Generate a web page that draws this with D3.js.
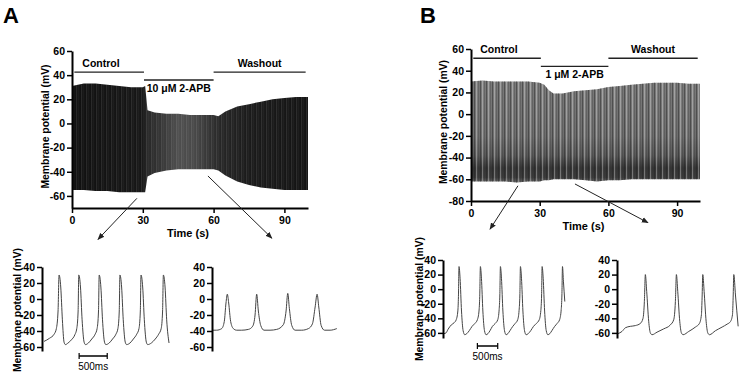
<!DOCTYPE html>
<html>
<head>
<meta charset="utf-8">
<script src="https://cdn.jsdelivr.net/npm/d3@7"></script>
<style>
  body { margin: 0; background: #fff; }
  svg text { font-family: Arial, "Liberation Sans", sans-serif; }
</style>
</head>
<body>
<script>
// ---- data ----
// envelopes of the spike trains (time s, peak mV, trough mV)
var timeA   = [0, 5, 10, 15, 20, 25, 30, 31, 32, 35, 40, 45, 50, 55, 60, 62, 65, 70, 75, 80, 85, 90, 95, 100];
var peakA   = [31, 33, 33, 32, 31, 30, 30, 31, 11, 9, 8, 8, 7, 7, 7, 6, 10, 14, 16, 18, 20, 21, 22, 22];
var troughA = [-55, -55, -56, -56, -57, -57, -57, -57, -44, -41, -39, -38, -38, -38, -38, -39, -43, -48, -51, -53, -54, -55, -55, -55];

var timeB   = [0, 5, 10, 15, 20, 25, 30, 32, 34, 36, 40, 45, 50, 55, 60, 65, 70, 75, 80, 85, 90, 95, 100];
var peakB   = [30, 31, 30, 30, 30, 30, 29, 27, 22, 19, 19, 21, 22, 23, 25, 26, 27, 28, 29, 29, 29, 28, 28];
var troughB = [-62, -62, -62, -62, -63, -62, -62, -61, -61, -60, -60, -60, -61, -62, -61, -61, -60, -60, -60, -60, -60, -60, -60];

// treatment periods
var periodNamesA = ["Control", "10 \u03bcM 2-APB", "Washout"];
var periodNamesB = ["Control", "1 \u03bcM 2-APB", "Washout"];
var periodStart  = [1, 30.5, 60];
var periodEnd    = [30.5, 60, 99];

// tick values
var mainXTicks  = [0, 30, 60, 90];
var mainYTicksA = [-60, -40, -20, 0, 20, 40, 60];
var mainYTicksB = [-80, -60, -40, -20, 0, 20, 40, 60];
var insetYTicks = [-60, -40, -20, 0, 20, 40];

// inset traces [ms, mV]
var traceA1 = [[0,-53],[100,-49],[180,-44],[220,-37],[250,-15],[268,30],[298,15],[327,-26],[357,-54],[381,-57],
  [428,-55],[488,-51],[547,-45],[583,-37],[607,-15],[619,30],[649,15],[678,-26],[714,-54],[738,-57],
  [790,-55],[850,-50],[910,-44],[945,-37],[970,-15],[982,30],[1012,15],[1041,-26],[1077,-54],[1101,-57],
  [1160,-55],[1220,-50],[1280,-44],[1315,-37],[1339,-15],[1351,30],[1381,15],[1410,-26],[1446,-54],[1470,-57],
  [1530,-55],[1590,-50],[1650,-44],[1690,-37],[1714,-15],[1726,30],[1756,15],[1785,-26],[1821,-54],[1845,-57],
  [1910,-55],[1980,-50],[2040,-44],[2085,-37],[2110,-15],[2124,30],[2154,15],[2183,-26],[2225,-55]];
var traceA2 = [[0,-39],[77,-39],[167,-37],[214,-28],[244,-5],[268,6],[292,-5],[327,-28],[375,-37],[434,-39],
  [524,-39],[643,-38],[720,-34],[762,-20],[791,6],[821,-15],[863,-33],[922,-39],
  [1029,-39],[1148,-38],[1267,-32],[1315,-15],[1345,7],[1374,-12],[1416,-33],[1476,-39],
  [1595,-39],[1713,-37],[1785,-31],[1833,-10],[1868,6],[1898,-10],[1940,-33],[2000,-39],
  [2100,-39],[2219,-37]];
var traceB1 = [[0,-61],[50,-60],[100,-55],[180,-49],[250,-46],[300,-42],[340,-30],[355,-10],[369,31],[395,15],[430,-30],[470,-57],[510,-62.5],
  [560,-61],[620,-57],[690,-51],[760,-47],[820,-42],[860,-30],[878,-10],[894,31],[920,15],[955,-30],[995,-57],[1035,-62.5],
  [1080,-61],[1130,-57],[1190,-51],[1260,-47],[1320,-42],[1355,-28],[1372,-8],[1386,31],[1412,15],[1447,-30],[1487,-57],[1527,-62.5],
  [1570,-61],[1620,-57],[1690,-51],[1750,-47],[1810,-42],[1845,-29],[1864,-8],[1878,31],[1904,15],[1939,-30],[1979,-57],[2019,-62.5],
  [2070,-61],[2130,-57],[2200,-51],[2270,-47],[2340,-42],[2380,-29],[2398,-8],[2411,31],[2437,15],[2472,-30],[2512,-57],[2552,-62.5],
  [2600,-61],[2650,-57],[2720,-51],[2780,-47],[2840,-42],[2880,-28],[2897,-8],[2911,31],[2935,10],[2968,-17]];
var traceB2 = [[0,-61],[98,-58],[180,-53],[303,-51],[426,-50],[549,-47],[615,-40],[648,-17],[672,20],[705,-3],[754,-44],[795,-60],[836,-62.5],
  [959,-59],[1123,-54.5],[1287,-49],[1369,-42],[1410,-17],[1435,20],[1468,-3],[1517,-44],[1558,-60],[1599,-62.5],
  [1738,-58],[1902,-52],[2001,-47],[2050,-35],[2066,-12],[2083,20],[2116,-3],[2165,-44],[2206,-60],[2247,-62.5],
  [2394,-57],[2558,-52],[2681,-48],[2763,-44.5],[2813,-35],[2829,-12],[2845,20],[2886,-8],[2952,-51]];

var scaleBarMs = 500;

// ---- drawing ----
var svg = d3.select("body").append("svg")
  .attr("width", 742)
  .attr("height", 374);

var defs = svg.append("defs");

defs.append("marker")
  .attr("id", "arrow")
  .attr("viewBox", "0 0 10 10")
  .attr("refX", 9).attr("refY", 5)
  .attr("markerWidth", 7).attr("markerHeight", 7)
  .attr("orient", "auto")
  .append("path")
  .attr("d", "M0,1 L10,5 L0,9 z")
  .attr("fill", "#222");

// stripes imitating the individual spikes
var patA = defs.append("pattern").attr("id", "stripesA")
  .attr("patternUnits", "userSpaceOnUse").attr("width", 5).attr("height", 10);
patA.append("rect").attr("x", 1.5).attr("width", 0.6).attr("height", 10).attr("fill", "#fff").attr("opacity", 0.2);
patA.append("rect").attr("x", 3.6).attr("width", 0.5).attr("height", 10).attr("fill", "#fff").attr("opacity", 0.1);

var patB = defs.append("pattern").attr("id", "stripesB")
  .attr("patternUnits", "userSpaceOnUse").attr("width", 6).attr("height", 10);
patB.append("rect").attr("x", 0).attr("width", 1).attr("height", 10).attr("fill", "#222").attr("opacity", 0.45);
patB.append("rect").attr("x", 2.3).attr("width", 0.8).attr("height", 10).attr("fill", "#fff").attr("opacity", 0.45);
patB.append("rect").attr("x", 4).attr("width", 0.8).attr("height", 10).attr("fill", "#333").attr("opacity", 0.35);

var font = "Arial, 'Liberation Sans', sans-serif";
var plain = function(d) { return String(d); };

function styleAxis(g) {
  g.select(".domain").attr("stroke", "#000").attr("stroke-width", 2);
  g.selectAll(".tick line").attr("stroke", "#000").attr("stroke-width", 1.5);
  g.selectAll(".tick text").attr("font-size", 10.5).attr("font-weight", "bold").attr("font-family", font).attr("fill", "#000");
}

function yTitle(x, y, size) {
  svg.append("text")
    .attr("transform", "translate(" + x + "," + y + ") rotate(-90)")
    .attr("text-anchor", "middle")
    .attr("font-size", size)
    .attr("font-weight", "bold")
    .text("Membrane potential (mV)");
}

function drawMain(o) {
  var x = o.x, y = o.y;
  var rows = o.time.map(function(t, i) { return {t: t, hi: o.peak[i], lo: o.trough[i]}; });

  var grad = defs.append("linearGradient").attr("id", o.id + "grad")
    .attr("gradientUnits", "userSpaceOnUse");
  if (o.vertical) {
    grad.attr("x1", 0).attr("x2", 0).attr("y1", y(32)).attr("y2", y(-63));
  } else {
    grad.attr("x1", x(0)).attr("x2", x(100)).attr("y1", 0).attr("y2", 0);
  }
  grad.selectAll("stop").data(o.stops).enter().append("stop")
    .attr("offset", function(d) { return d[0]; })
    .attr("stop-color", function(d) { return d[1]; });

  var area = d3.area()
    .x(function(d) { return x(d.t); })
    .y0(function(d) { return y(d.lo); })
    .y1(function(d) { return y(d.hi); });

  svg.append("path").datum(rows).attr("d", area).attr("fill", "url(#" + o.id + "grad)");
  svg.append("path").datum(rows).attr("d", area).attr("fill", "url(#" + o.stripes + ")");

  // axes
  var gx = svg.append("g").attr("transform", "translate(0," + y.range()[0] + ")");
  gx.call(d3.axisBottom(x).tickValues(d3.range(0, 101, 10)).tickSize(3).tickFormat("").tickSizeOuter(0));
  gx.call(d3.axisBottom(x).tickValues(mainXTicks).tickSize(5).tickSizeOuter(0).tickPadding(4).tickFormat(plain));
  styleAxis(gx);

  var gy = svg.append("g").attr("transform", "translate(" + x.range()[0] + ",0)");
  gy.call(d3.axisLeft(y).tickValues(d3.range(y.domain()[0], 61, 10)).tickSize(3).tickFormat("").tickSizeOuter(0));
  gy.call(d3.axisLeft(y).tickValues(o.yTicks).tickSize(5).tickSizeOuter(0).tickPadding(2).tickFormat(plain));
  styleAxis(gy);

  svg.append("text")
    .attr("x", x(50) - 2).attr("y", y.range()[0] + 29)
    .attr("text-anchor", "middle").attr("font-size", 11).attr("font-weight", "bold")
    .text("Time (s)");

  yTitle(o.titleX, (y.range()[0] + y.range()[1]) / 2 - 3, 10.4);

  // treatment bars
  o.names.forEach(function(name, i) {
    var up = (i === 1) ? o.barLow : o.barHigh;
    svg.append("line")
      .attr("x1", x(periodStart[i])).attr("x2", x(periodEnd[i]))
      .attr("y1", y(up)).attr("y2", y(up))
      .attr("stroke", "#222").attr("stroke-width", 1.3);
    svg.append("text")
      .attr("x", i === 0 ? x(periodStart[i]) + o.ctrlPad : (x(periodStart[i]) + x(periodEnd[i])) / 2)
      .attr("y", i === 1 ? y(up) + 12 : y(up) - 5)
      .attr("text-anchor", i === 0 ? "start" : "middle")
      .attr("font-size", 10.5).attr("font-weight", "bold")
      .text(name);
  });

  // arrows to the insets
  o.arrows.forEach(function(a) {
    svg.append("line")
      .attr("x1", x(a[0])).attr("y1", y(a[1]))
      .attr("x2", x(a[2])).attr("y2", y(a[3]))
      .attr("stroke", "#222").attr("stroke-width", 1)
      .attr("marker-end", "url(#arrow)");
  });

  svg.append("text").attr("x", o.letterX).attr("y", 23)
    .attr("font-size", 22).attr("font-weight", "bold").text(o.letter);
}

function drawInset(o) {
  var x = d3.scaleLinear().domain([0, 1000]).range([o.x0, o.x0 + o.pxPerSec]);
  var y = o.y;

  svg.append("path").datum(o.trace)
    .attr("d", d3.line().x(function(d) { return x(d[0]); }).y(function(d) { return y(d[1]); }).curve(d3.curveMonotoneX))
    .attr("fill", "none").attr("stroke", "#444").attr("stroke-width", 1);

  var gy = svg.append("g").attr("transform", "translate(" + o.axisX + ",0)");
  gy.call(d3.axisLeft(y).tickValues(d3.range(-60, 41, 10)).tickSize(3).tickFormat("").tickSizeOuter(0));
  gy.call(d3.axisLeft(y).tickValues(insetYTicks).tickSize(5).tickSizeOuter(0).tickPadding(2).tickFormat(plain));
  styleAxis(gy);

  if (o.bar != null) {
    var by = o.barY;
    svg.append("line").attr("x1", x(o.bar)).attr("x2", x(o.bar + scaleBarMs))
      .attr("y1", by).attr("y2", by).attr("stroke", "#000").attr("stroke-width", 1.5);
    [o.bar, o.bar + scaleBarMs].forEach(function(t) {
      svg.append("line").attr("x1", x(t)).attr("x2", x(t))
        .attr("y1", by - 3).attr("y2", by + 3).attr("stroke", "#000").attr("stroke-width", 1.2);
    });
    svg.append("text").attr("x", x(o.bar + scaleBarMs / 2)).attr("y", by + 14)
      .attr("text-anchor", "middle").attr("font-size", 10).text(scaleBarMs + "ms");
  }
}

// panel A
var xA = d3.scaleLinear().domain([0, 100]).range([72, 308]);
var yA = d3.scaleLinear().domain([-70, 60]).range([208, 51]);
drawMain({
  id: "A", x: xA, y: yA, time: timeA, peak: peakA, trough: troughA,
  stops: [[0, "#101010"], [0.3, "#161616"], [0.315, "#262626"], [0.38, "#363636"], [0.45, "#4e4e4e"],
          [0.52, "#484848"], [0.58, "#343434"], [0.63, "#262626"], [0.75, "#1a1a1a"], [1, "#131313"]],
  stripes: "stripesA", yTicks: mainYTicksA, titleX: 49,
  names: periodNamesA, barHigh: 42.5, barLow: 36, ctrlPad: 8,
  arrows: [[27.5, -62, 11, -96], [57.6, -43.5, 84.7, -95]],
  letter: "A", letterX: 3
});

// panel B
var xB = d3.scaleLinear().domain([0, 100]).range([471, 700]);
var yB = d3.scaleLinear().domain([-80, 60]).range([201, 49]);
drawMain({
  id: "B", x: xB, y: yB, time: timeB, peak: peakB, trough: troughB, vertical: true,
  stops: [[0, "#7a7a7a"], [0.55, "#6e6e6e"], [0.74, "#585858"], [0.86, "#333"], [0.95, "#3a3a3a"], [1, "#666"]],
  stripes: "stripesB", yTicks: mainYTicksB, titleX: 447,
  names: periodNamesB, barHigh: 51.5, barLow: 44, ctrlPad: 7,
  arrows: [[20.5, -66, 8.3, -106], [45.4, -64.3, 77.3, -100]],
  letter: "B", letterX: 420
});

// insets
var yInA = d3.scaleLinear().domain([-65, 40]).range([351, 267]);
var yInB = d3.scaleLinear().domain([-67, 40]).range([338, 260]);
drawInset({ trace: traceA1, x0: 44, pxPerSec: 56.2, axisX: 42, y: yInA, bar: 625, barY: 356 });
drawInset({ trace: traceA2, x0: 212.3, pxPerSec: 56.1, axisX: 212, y: yInA });
drawInset({ trace: traceB1, x0: 444, pxPerSec: 40.7, axisX: 443, y: yInB, bar: 820, barY: 346 });
drawInset({ trace: traceB2, x0: 618, pxPerSec: 40.7, axisX: 617, y: yInB });

yTitle(21, 310, 10.4);
yTitle(423, 299, 10.4);
</script>
</body>
</html>
